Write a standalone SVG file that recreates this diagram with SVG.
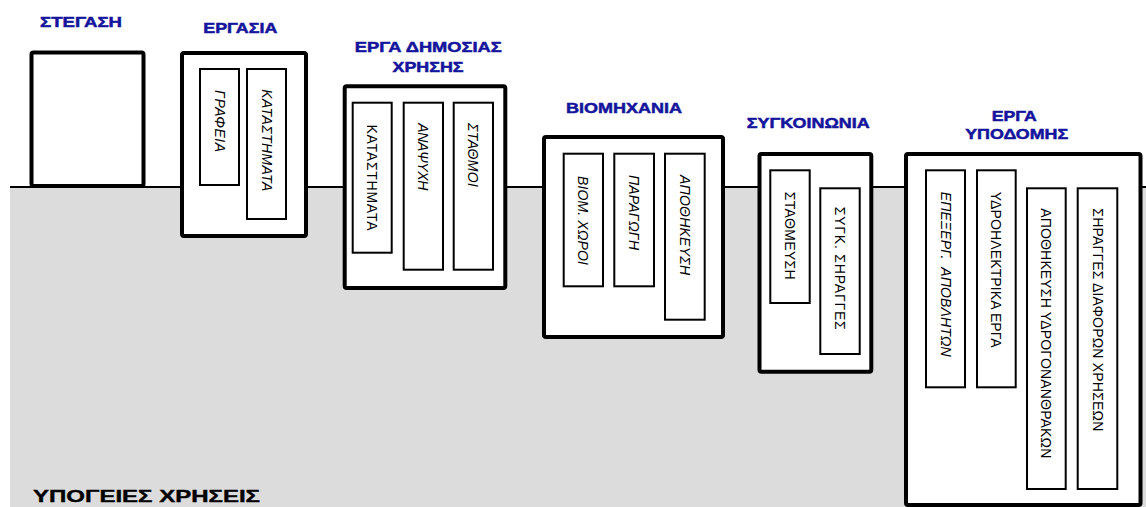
<svg xmlns="http://www.w3.org/2000/svg" width="1146" height="507" viewBox="0 0 1146 507">
<style>
.outer{fill:#fff;stroke:#000;stroke-width:4}
.inner{fill:#fff;stroke:#000;stroke-width:2}
.title{font-family:"Liberation Sans",Arial,sans-serif;font-weight:bold;font-size:15px;fill:#14149c;stroke:#14149c;stroke-width:0.5;text-anchor:middle}
.lbl{font-family:"Liberation Sans",Arial,sans-serif;font-size:14px;fill:#000}
.it{font-style:italic}
.under{font-family:"Liberation Sans",Arial,sans-serif;font-weight:bold;font-size:17px;fill:#000;stroke:#000;stroke-width:0.4}
</style>
<rect width="1146" height="507" fill="#fff"/>
<g id="ground">
<rect x="10" y="187" width="1136" height="320" fill="#dcdcdc"/>
<line x1="10" y1="187" x2="1146" y2="187" stroke="#000" stroke-width="2"/>
<text class="under" x="33" y="501.5" textLength="227" lengthAdjust="spacingAndGlyphs">ΥΠΟΓΕΙΕΣ ΧΡΗΣΕΙΣ</text>
</g>
<g id="connectors"/>
<g id="stegasi">
<text class="title" x="81" y="27.3" textLength="82" lengthAdjust="spacingAndGlyphs">ΣΤΕΓΑΣΗ</text>
<rect class="outer" x="31.5" y="52.5" width="112" height="133.5" rx="2"/>
</g>
<g id="ergasia">
<text class="title" x="240.3" y="33.3" textLength="74" lengthAdjust="spacingAndGlyphs">ΕΡΓΑΣΙΑ</text>
<rect class="outer" x="182" y="53" width="124" height="183" rx="2"/>
<rect class="inner" x="200" y="69" width="39" height="116"/>
<rect class="inner" x="247" y="69" width="39" height="150"/>
<text class="lbl it" transform="translate(219.5,90) rotate(90)" x="0" y="5" textLength="62">ΓΡΑΦΕΙΑ</text>
<text class="lbl it" transform="translate(266.5,89.3) rotate(90)" x="0" y="5" textLength="102">ΚΑΤΑΣΤΗΜΑΤΑ</text>
</g>
<g id="erga-dimosias">
<text class="title" x="428.3" y="51.7" textLength="147" lengthAdjust="spacingAndGlyphs">ΕΡΓΑ ΔΗΜΟΣΙΑΣ</text>
<text class="title" x="428" y="71.7" textLength="71" lengthAdjust="spacingAndGlyphs">ΧΡΗΣΗΣ</text>
<rect class="outer" x="344.7" y="86.3" width="160.6" height="201.7" rx="2"/>
<rect class="inner" x="352.7" y="102.7" width="39" height="150"/>
<rect class="inner" x="403.7" y="102.7" width="39.3" height="167"/>
<rect class="inner" x="453.7" y="102.7" width="39.3" height="167"/>
<text class="lbl" transform="translate(372.2,124.5) rotate(90)" x="0" y="5" textLength="106">ΚΑΤΑΣΤΗΜΑΤΑ</text>
<text class="lbl it" transform="translate(423.3,123.3) rotate(90)" x="0" y="5" textLength="67">ΑΝΑΨΥΧΗ</text>
<text class="lbl it" transform="translate(473.3,123) rotate(90)" x="0" y="5" textLength="64">ΣΤΑΘΜΟΙ</text>
</g>
<g id="viomichania">
<text class="title" x="624" y="113.3" textLength="116" lengthAdjust="spacingAndGlyphs">ΒΙΟΜΗΧΑΝΙΑ</text>
<rect class="outer" x="544" y="137" width="179" height="200" rx="2"/>
<rect class="inner" x="563.7" y="153.7" width="39.3" height="132.6"/>
<rect class="inner" x="614.3" y="153.7" width="39.7" height="132.6"/>
<rect class="inner" x="665" y="153.7" width="39.7" height="166"/>
<text class="lbl it" transform="translate(583.3,176) rotate(90)" x="0" y="5" textLength="89">ΒΙΟΜ. ΧΩΡΟΙ</text>
<text class="lbl it" transform="translate(634,175) rotate(90)" x="0" y="5" textLength="75">ΠΑΡΑΓΩΓΗ</text>
<text class="lbl it" transform="translate(684.8,175) rotate(90)" x="0" y="5" textLength="100">ΑΠΟΘΗΚΕΥΣΗ</text>
</g>
<g id="sygkoinonia">
<text class="title" x="808.3" y="128.3" textLength="123" lengthAdjust="spacingAndGlyphs">ΣΥΓΚΟΙΝΩΝΙΑ</text>
<rect class="outer" x="759.5" y="154" width="111.8" height="217.7" rx="2"/>
<rect class="inner" x="770.3" y="170.3" width="39.4" height="132.7"/>
<rect class="inner" x="820.3" y="188.3" width="39.4" height="165.7"/>
<text class="lbl" transform="translate(790,191.7) rotate(90)" x="0" y="5" textLength="88">ΣΤΑΘΜΕΥΣΗ</text>
<text class="lbl" transform="translate(840,206.7) rotate(90)" x="0" y="5" textLength="123">ΣΥΓΚ. ΣΗΡΑΓΓΕΣ</text>
</g>
<g id="erga-ypodomis">
<text class="title" x="1014.2" y="120.7" textLength="45" lengthAdjust="spacingAndGlyphs">ΕΡΓΑ</text>
<text class="title" x="1016.7" y="139" textLength="103" lengthAdjust="spacingAndGlyphs">ΥΠΟΔΟΜΗΣ</text>
<rect class="outer" x="906" y="154" width="234.5" height="351" rx="2"/>
<rect class="inner" x="926" y="170.3" width="39" height="217"/>
<rect class="inner" x="977" y="170.3" width="38.7" height="217"/>
<rect class="inner" x="1027" y="188.3" width="38.7" height="300.7"/>
<rect class="inner" x="1077.7" y="188.3" width="39.6" height="300.7"/>
<text class="lbl it" transform="translate(945.5,191.7) rotate(90)" x="0" y="5" textLength="165" xml:space="preserve">ΕΠΕΞΕΡΓ.  ΑΠΟΒΛΗΤΩΝ</text>
<text class="lbl" transform="translate(996.3,191.7) rotate(90)" x="0" y="5" textLength="156">ΥΔΡΟΗΛΕΚΤΡΙΚΑ ΕΡΓΑ</text>
<text class="lbl" transform="translate(1046.3,208.3) rotate(90)" x="0" y="5" textLength="250">ΑΠΟΘΗΚΕΥΣΗ ΥΔΡΟΓΟΝΑΝΘΡΑΚΩΝ</text>
<text class="lbl" transform="translate(1097.5,208.3) rotate(90)" x="0" y="5" textLength="223">ΣΗΡΑΓΓΕΣ ΔΙΑΦΟΡΩΝ ΧΡΗΣΕΩΝ</text>
</g>
</svg>
